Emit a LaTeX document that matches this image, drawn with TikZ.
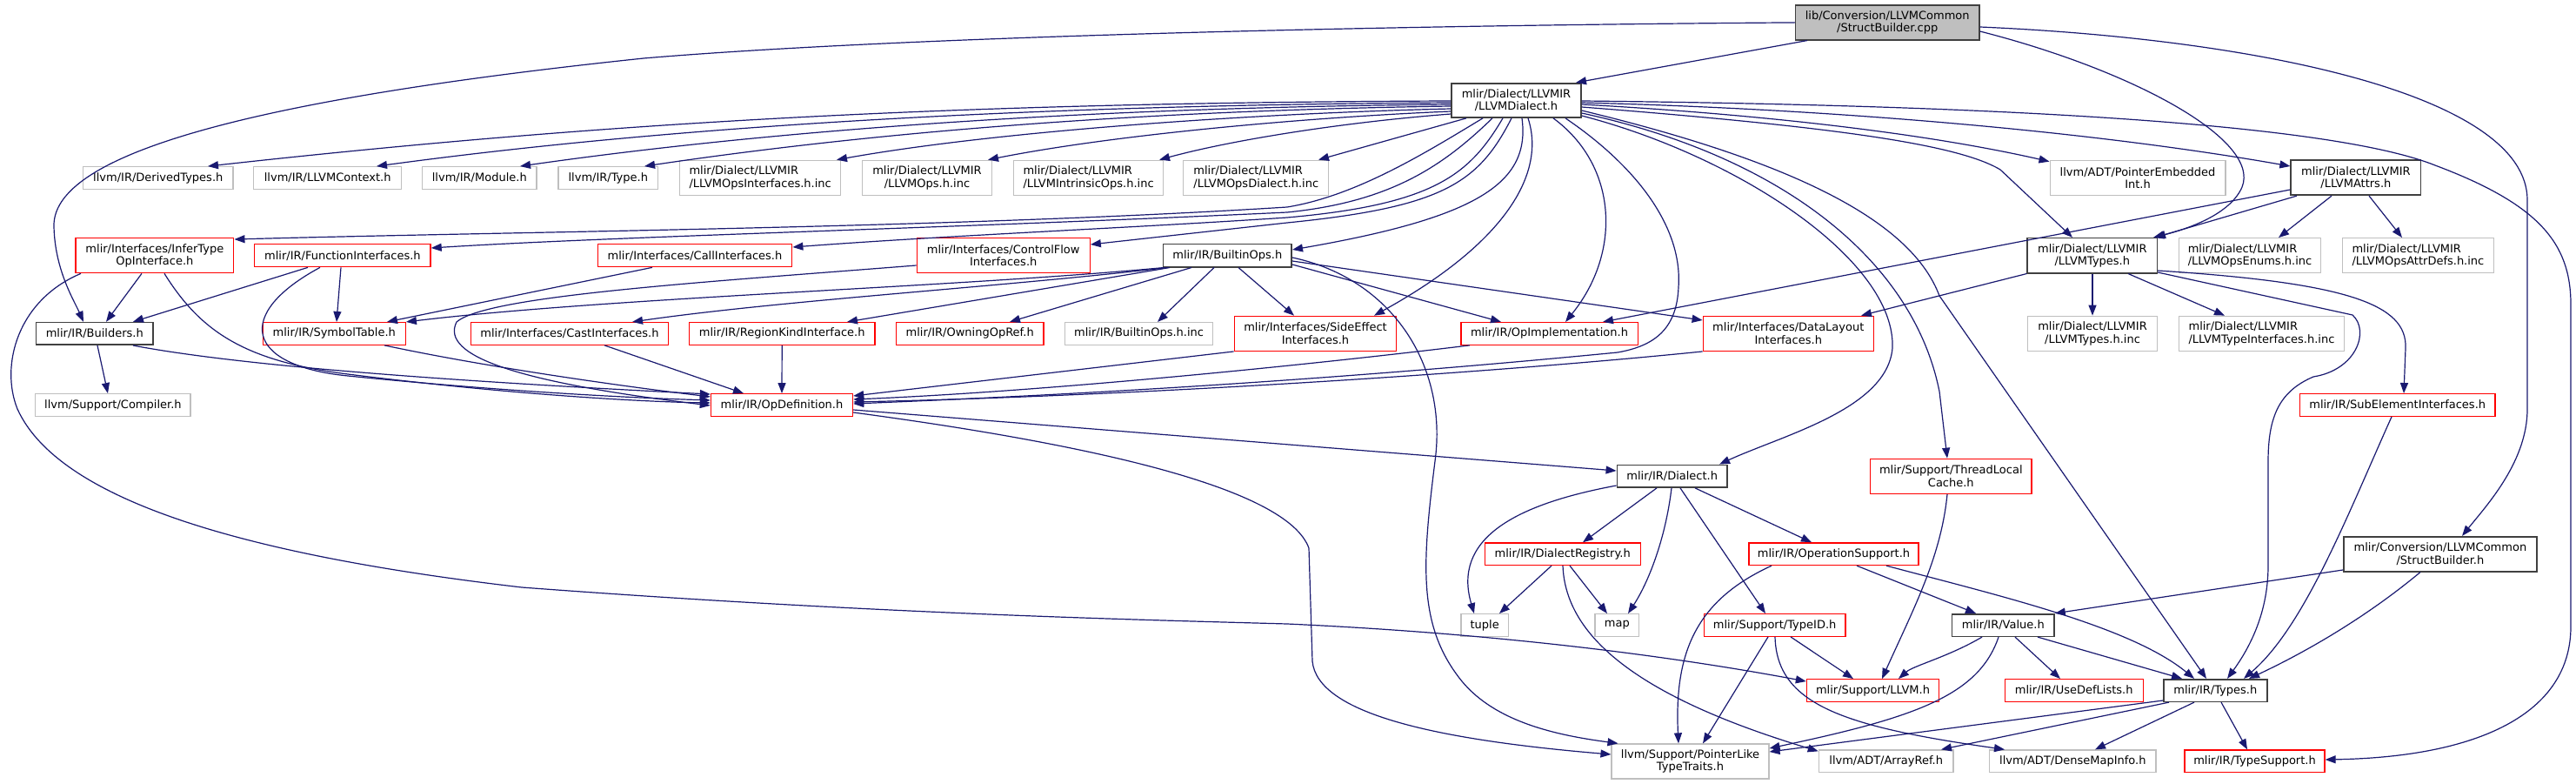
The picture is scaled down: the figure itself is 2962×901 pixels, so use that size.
\documentclass[tikz,border=0pt]{standalone}
\usepackage{fontspec}
\setmainfont{DejaVu Sans}
\usetikzlibrary{arrows.meta}
\definecolor{edgec}{HTML}{191970}
\definecolor{dg}{HTML}{404040}
\definecolor{lg}{HTML}{BFBFBF}
\definecolor{rd}{HTML}{FF0000}
\newcommand\mkn[7]{\node[#1,minimum width=#5pt,minimum height=#6pt] (#2) at (#3,#4) {#7};}
\begin{document}
\begin{tikzpicture}[x=1pt,y=-1pt,
  nbase/.style={rectangle,inner sep=0pt,align=center,font=\fontsize{13}{14.3}\selectfont},
  nblack/.style={nbase,draw=dg,line width=1.6pt,fill=white},
  nred/.style={nbase,draw=rd,line width=1.3pt,fill=white},
  ngrey/.style={nbase,draw=lg,line width=1.3pt,fill=white},
  nroot/.style={nbase,draw=dg,line width=1.6pt,fill=lg},
  edg/.style={draw=edgec,line width=1.2pt,-{Triangle[length=12pt,width=9pt]}},
]
\fill[white] (0,0) rectangle (2962,901);
\useasboundingbox (0,0) rectangle (2962,901);

\mkn{nroot}{root}{2170.2}{25.9}{211.3}{39.7}{lib/Conversion/LLVMCommon\\/StructBuilder.cpp}
\mkn{nblack}{dialect}{1743.5}{115.4}{149}{39.3}{mlir/Dialect/LLVMIR\\/LLVMDialect.h}
\mkn{ngrey}{derived}{181.8}{204.5}{172.2}{25.6}{llvm/IR/DerivedTypes.h}
\mkn{ngrey}{llctx}{376.7}{204.5}{169.8}{25.6}{llvm/IR/LLVMContext.h}
\mkn{ngrey}{module}{551.3}{204.5}{131.5}{25.6}{llvm/IR/Module.h}
\mkn{ngrey}{type}{699.3}{204.5}{114.8}{25.6}{llvm/IR/Type.h}
\mkn{ngrey,align=left}{opsif}{874.2}{204.3}{185.1}{40}{mlir/Dialect/LLVMIR\\/LLVMOpsInterfaces.h.inc}
\mkn{ngrey}{opsinc}{1066}{204.3}{148.7}{40}{mlir/Dialect/LLVMIR\\/LLVMOps.h.inc}
\mkn{ngrey,align=left}{intr}{1251.6}{204.3}{171.7}{40}{mlir/Dialect/LLVMIR\\/LLVMIntrinsicOps.h.inc}
\mkn{ngrey,align=left}{opsdial}{1444.3}{204.3}{167}{40}{mlir/Dialect/LLVMIR\\/LLVMOpsDialect.h.inc}
\mkn{ngrey}{ptremb}{2458}{204.3}{201.7}{40}{llvm/ADT/PointerEmbedded\\Int.h}
\mkn{nblack}{attrs}{2708.9}{204.3}{149.5}{40}{mlir/Dialect/LLVMIR\\/LLVMAttrs.h}
\mkn{nred}{infer}{177.9}{293.7}{181.8}{40}{mlir/Interfaces/InferType\\OpInterface.h}
\mkn{nred}{funcif}{393.9}{293.7}{202.3}{26}{mlir/IR/FunctionInterfaces.h}
\mkn{nred}{callif}{799}{293.7}{223.5}{26}{mlir/Interfaces/CallInterfaces.h}
\mkn{nred}{cflow}{1153.7}{293.7}{199}{40}{mlir/Interfaces/ControlFlow\\Interfaces.h}
\mkn{nblack}{builtin}{1411.3}{293.7}{147.8}{26}{mlir/IR/BuiltinOps.h}
\mkn{nblack}{types}{2405.8}{293.7}{149.1}{40}{mlir/Dialect/LLVMIR\\/LLVMTypes.h}
\mkn{ngrey,align=left}{enums}{2587}{293.7}{163.2}{40}{mlir/Dialect/LLVMIR\\/LLVMOpsEnums.h.inc}
\mkn{ngrey,align=left}{attrdefs}{2780.4}{293.7}{174.1}{40}{mlir/Dialect/LLVMIR\\/LLVMOpsAttrDefs.h.inc}
\mkn{nblack}{builders}{108.8}{383.4}{134.4}{25.6}{mlir/IR/Builders.h}
\mkn{nred}{symtab}{384.3}{383.4}{164}{25.6}{mlir/IR/SymbolTable.h}
\mkn{nred}{castif}{655}{383.4}{227.3}{25.6}{mlir/Interfaces/CastInterfaces.h}
\mkn{nred}{regkind}{899.2}{383.4}{213.3}{25.6}{mlir/IR/RegionKindInterface.h}
\mkn{nred}{owning}{1115.2}{383.4}{169.8}{25.6}{mlir/IR/OwningOpRef.h}
\mkn{ngrey}{bopsinc}{1309.6}{383.4}{170.3}{25.6}{mlir/IR/BuiltinOps.h.inc}
\mkn{nred}{sideeff}{1512.5}{383.3}{186.6}{40}{mlir/Interfaces/SideEffect\\Interfaces.h}
\mkn{nred}{opimpl}{1781.5}{383.4}{203.3}{25.6}{mlir/IR/OpImplementation.h}
\mkn{nred}{dlayout}{2056.3}{383.3}{196.1}{40}{mlir/Interfaces/DataLayout\\Interfaces.h}
\mkn{ngrey}{typesinc}{2406}{383.3}{149.6}{40}{mlir/Dialect/LLVMIR\\/LLVMTypes.h.inc}
\mkn{ngrey,align=left}{typeifinc}{2600.5}{383.3}{190.2}{40}{mlir/Dialect/LLVMIR\\/LLVMTypeInterfaces.h.inc}
\mkn{ngrey}{compiler}{129.9}{465.5}{178.3}{25.6}{llvm/Support/Compiler.h}
\mkn{nred}{opdef}{899}{465.5}{163.1}{25.6}{mlir/IR/OpDefinition.h}
\mkn{nred}{subelem}{2756.7}{465.5}{224.3}{25.6}{mlir/IR/SubElementInterfaces.h}
\mkn{nblack}{dialecth}{1922.7}{547.2}{126.7}{25.7}{mlir/IR/Dialect.h}
\mkn{nred}{tlcache}{2243.3}{547.3}{185.4}{40}{mlir/Support/ThreadLocal\\Cache.h}
\mkn{nred}{dreg}{1796.7}{636.7}{178.9}{25.6}{mlir/IR/DialectRegistry.h}
\mkn{nred}{opsupp}{2108.5}{636.7}{195.1}{25.6}{mlir/IR/OperationSupport.h}
\mkn{nblack}{sbh}{2805.9}{636.7}{222.4}{40}{mlir/Conversion/LLVMCommon\\/StructBuilder.h}
\mkn{ngrey}{tuple}{1707.2}{718.5}{54.6}{25.6}{tuple}
\mkn{ngrey}{map}{1859.3}{718.5}{50.6}{25.6}{map}
\mkn{nred}{typeid}{2040.6}{718.5}{162.6}{25.6}{mlir/Support/TypeID.h}
\mkn{nblack}{value}{2303.3}{718.5}{117.4}{25.6}{mlir/IR/Value.h}
\mkn{nred}{llvmh}{2153.5}{793.5}{152.1}{25.6}{mlir/Support/LLVM.h}
\mkn{nred}{usedef}{2384.7}{793.5}{159}{25.6}{mlir/IR/UseDefLists.h}
\mkn{nblack}{irtypes}{2547.3}{793.5}{118.8}{25.6}{mlir/IR/Types.h}
\mkn{ngrey}{ptrlike}{1943.5}{875}{180.8}{40}{llvm/Support/PointerLike\\TypeTraits.h}
\mkn{ngrey}{arrayref}{2168.7}{874.8}{154.7}{25.6}{llvm/ADT/ArrayRef.h}
\mkn{ngrey}{densemap}{2383.3}{874.8}{191.2}{25.6}{llvm/ADT/DenseMapInfo.h}
\mkn{nred}{typesupp}{2592.5}{874.8}{160.9}{25.6}{mlir/IR/TypeSupport.h}

% root
\draw[edg] (2078,0 |- root.south) -- (1812,0 |- dialect.north);
\draw[edg] (root.west) .. controls (1500,30) and (1000,45) .. (740,67) .. controls (330,110) and (60,170) .. (62,260) .. controls (63,310) and (85,345) .. (96,0 |- builders.north);
\draw[edg] (root.east |- 0,36) .. controls (2450,80) and (2600,160) .. (2578,215) .. controls (2565,245) and (2520,262) .. (2476,0 |- types.north);
\draw[edg] (root.east |- 0,31) .. controls (2600,45) and (2906,110) .. (2906,230) -- (2906,470) .. controls (2906,530) and (2860,580) .. (2831,0 |- sbh.north);

% LLVMDialect.h left fan
\draw[edg] (dialect.west |- 0,116) .. controls (1100,118) and (700,140) .. (239,0 |- derived.north);
\draw[edg] (dialect.west |- 0,118) .. controls (1150,121) and (750,148) .. (433,0 |- llctx.north);
\draw[edg] (dialect.west |- 0,120) .. controls (1200,124) and (850,155) .. (598,0 |- module.north);
\draw[edg] (dialect.west |- 0,122) .. controls (1250,128) and (950,160) .. (741,0 |- type.north);
\draw[edg] (dialect.west |- 0,125) .. controls (1450,130) and (1150,150) .. (962,0 |- opsif.north);
\draw[edg] (dialect.west |- 0,128) .. controls (1500,135) and (1280,155) .. (1136,0 |- opsinc.north);
\draw[edg] (dialect.west |- 0,131) .. controls (1550,140) and (1420,160) .. (1333,0 |- intr.north);
\draw[edg] (1686,0 |- dialect.south) -- (1516,0 |- opsdial.north);
\draw[edg] (1705,0 |- dialect.south) .. controls (1640,175) and (1560,225) .. (1480,238) .. controls (1100,262) and (600,266) .. ([yshift=-2pt]infer.north east);
\draw[edg] (1716,0 |- dialect.south) .. controls (1660,190) and (1600,232) .. (1480,244) .. controls (1100,262) and (700,272) .. (funcif.east |- 0,285);
\draw[edg] (1728,0 |- dialect.south) .. controls (1690,200) and (1650,235) .. (1480,250) .. controls (1300,262) and (1100,270) .. (callif.east |- 0,284);
\draw[edg] (1738,0 |- dialect.south) .. controls (1700,210) and (1660,238) .. (1480,256) -- (cflow.east |- 0,281);
\draw[edg] (1750,0 |- dialect.south) .. controls (1760,210) and (1700,250) .. (builtin.east |- 0,287);
\draw[edg] (1757,0 |- dialect.south) .. controls (1778,200) and (1730,280) .. (1580,0 |- sideeff.north);
\draw[edg] (1786,0 |- dialect.south) .. controls (1860,190) and (1865,290) .. (1800,0 |- opimpl.north);
\draw[edg] (1800,0 |- dialect.south) .. controls (1880,190) and (1935,260) .. (1930,330) .. controls (1928,380) and (1900,398) .. (1860,405) .. controls (1500,440) and (1200,455) .. (opdef.east |- 0,464);
% LLVMDialect.h right fan
\draw[edg] (dialect.east |- 0,133) .. controls (2000,180) and (2180,300) .. (2176,400) .. controls (2170,470) and (2050,500) .. (1977,0 |- dialecth.north);
\draw[edg] (dialect.east |- 0,130) .. controls (2050,180) and (2200,300) .. (2230,450) -- (2239,0 |- tlcache.north);
\draw[edg] (dialect.east |- 0,127) .. controls (2080,190) and (2200,260) .. (2230,340) -- (2537,0 |- irtypes.north);
\draw[edg] (dialect.east |- 0,123) .. controls (2100,145) and (2250,165) .. (2300,195) -- (2383,0 |- types.north);
\draw[edg] (dialect.east |- 0,120) .. controls (2000,130) and (2200,150) .. ([yshift=-2pt]ptremb.north west);
\draw[edg] (dialect.east |- 0,118) .. controls (2100,125) and (2400,150) .. (attrs.west |- 0,191);
\draw[edg] (dialect.east |- 0,116) .. controls (2400,122) and (2700,150) .. (2800,190) .. controls (2920,235) and (2956,280) .. (2956,350) -- (2956,720) .. controls (2956,820) and (2850,870) .. (typesupp.east |- 0,873);

% BuiltinOps.h
\draw[edg] ([xshift=2pt]builtin.south west) .. controls (1100,330) and (700,342) .. (symtab.north east);
\draw[edg] ([xshift=6pt]builtin.south west) .. controls (1150,330) and (900,345) .. (727,0 |- castif.north);
\draw[edg] (1345,0 |- builtin.south) -- (974,0 |- regkind.north);
\draw[edg] (1370,0 |- builtin.south) -- (1161,0 |- owning.north);
\draw[edg] (1396,0 |- builtin.south) -- (1331,0 |- bopsinc.north);
\draw[edg] (1424,0 |- builtin.south) -- (1488,0 |- sideeff.north);
\draw[edg] (builtin.east |- 0,304) -- (1726,0 |- opimpl.north);
\draw[edg] (builtin.east |- 0,300) -- (dlayout.west |- 0,368);
\draw[edg] (builtin.east |- 0,296) .. controls (1600,320) and (1665,420) .. (1650,530) .. controls (1635,650) and (1630,720) .. (1681,783) .. controls (1720,830) and (1790,845) .. ([xshift=8pt]ptrlike.north west);

% into OpDefinition.h
\draw[edg] (sideeff.south west) -- (opdef.east |- 0,455);
\draw[edg] (1690,0 |- opimpl.south) .. controls (1500,420) and (1200,450) .. (opdef.east |- 0,459);
\draw[edg] (dlayout.south west) .. controls (1700,430) and (1300,455) .. (opdef.east |- 0,462);
\draw[edg] (695,0 |- castif.south) -- (855,0 |- opdef.north);
\draw[edg] (regkind.south) -- (opdef.north);
\draw[edg] (153,0 |- builders.south) .. controls (300,425) and (600,442) .. ([yshift=-1pt]opdef.north west);
\draw[edg] (442,0 |- symtab.south) .. controls (550,420) and (700,442) .. (opdef.west |- 0,456);
\draw[edg] (368,0 |- funcif.south) .. controls (270,360) and (280,420) .. (400,432) .. controls (600,452) and (750,458) .. (opdef.west |- 0,460);
\draw[edg] (189,0 |- infer.south) .. controls (230,380) and (280,415) .. (400,430) .. controls (600,455) and (750,462) .. (opdef.west |- 0,463);
\draw[edg] (cflow.west |- 0,305) .. controls (800,325) and (560,340) .. (525,370) .. controls (505,410) and (600,440) .. (opdef.west |- 0,466);

% interfaces
\draw[edg] (354,0 |- funcif.south) -- (153,0 |- builders.north);
\draw[edg] (392,0 |- funcif.south) -- (387,0 |- symtab.north);
\draw[edg] (163,0 |- infer.south) -- (122,0 |- builders.north);
\draw[edg] (93,0 |- infer.south) .. controls (20,345) and (0,420) .. (20,470) .. controls (70,580) and (300,640) .. (600,675) .. controls (1000,705) and (1300,712) .. (1480,717) .. controls (1700,727) and (1900,750) .. ([yshift=-3pt]llvmh.north west);
\draw[edg] (750,0 |- callif.south) -- (445,0 |- symtab.north);
\draw[edg] (112,0 |- builders.south) -- (124,0 |- compiler.north);

% LLVMAttrs.h
\draw[edg] (attrs.west |- 0,218) -- (1843,0 |- opimpl.north);
\draw[edg] (2641,0 |- attrs.south) -- (2478,0 |- types.north);
\draw[edg] (2681,0 |- attrs.south) -- (2620,0 |- enums.north);
\draw[edg] (2724,0 |- attrs.south) -- (2762,0 |- attrdefs.north);

% LLVMTypes.h
\draw[edg] (types.south west) -- (2140,0 |- dlayout.north);
\draw[edg] (2406,0 |- types.south) -- (2406,0 |- typesinc.north);
\draw[edg] (2447,0 |- types.south) -- (2558,0 |- typeifinc.north);
\draw[edg] (types.east |- 0,311) .. controls (2700,325) and (2768,350) .. (2766,400) -- (2764,0 |- subelem.north);
\draw[edg] (types.east |- 0,313) -- (2705,362) .. controls (2725,380) and (2710,425) .. (2660,433) .. controls (2620,450) and (2608,480) .. (2608,530) -- (2608,650) .. controls (2608,700) and (2590,740) .. (2561,0 |- irtypes.north);
\draw[edg] (2750,0 |- subelem.south) .. controls (2700,590) and (2650,720) .. (2580,0 |- irtypes.north);

% StructBuilder.h
\draw[edg] (sbh.west |- 0,655) -- (value.north east);
\draw[edg] (2783,0 |- sbh.south) .. controls (2720,710) and (2650,750) .. (2586,0 |- irtypes.north);

% OpDefinition.h
\draw[edg] (opdef.east |- 0,471) -- (dialecth.west |- 0,541);
\draw[edg] (opdef.east |- 0,474) .. controls (1250,510) and (1480,560) .. (1505,630) -- (1509,760) .. controls (1515,820) and (1650,850) .. (ptrlike.west |- 0,867);

% Dialect.h
\draw[edg] (dialecth.west |- 0,558) .. controls (1740,580) and (1670,620) .. (1695,0 |- tuple.north);
\draw[edg] (1905,0 |- dialecth.south) -- (1820,0 |- dreg.north);
\draw[edg] (1922,0 |- dialecth.south) .. controls (1915,620) and (1895,670) .. (1872,0 |- map.north);
\draw[edg] (1932,0 |- dialecth.south) -- (2030,0 |- typeid.north);
\draw[edg] (1949,0 |- dialecth.south) -- (2083,0 |- opsupp.north);

% DialectRegistry.h
\draw[edg] (1784,0 |- dreg.south) -- (1724,0 |- tuple.north);
\draw[edg] (1805,0 |- dreg.south) -- (1848,0 |- map.north);
\draw[edg] (1797,0 |- dreg.south) .. controls (1800,730) and (1880,800) .. ([yshift=-2pt]arrayref.north west);

% OperationSupport.h
\draw[edg] (2037,0 |- opsupp.south) .. controls (1950,690) and (1925,750) .. (1930,0 |- ptrlike.north);
\draw[edg] (2135,0 |- opsupp.south) -- (2272,0 |- value.north);
\draw[edg] (2169,0 |- opsupp.south) .. controls (2300,685) and (2450,720) .. (2523,0 |- irtypes.north);

% TypeID.h
\draw[edg] (2059,0 |- typeid.south) -- (2131,0 |- llvmh.north);
\draw[edg] (2033,0 |- typeid.south) -- (1958,0 |- ptrlike.north);
\draw[edg] (2041,0 |- typeid.south) .. controls (2043,810) and (2120,835) .. (2305,0 |- densemap.north);

% ThreadLocalCache.h
\draw[edg] (2239,0 |- tlcache.south) .. controls (2232,640) and (2200,700) .. (2164,0 |- llvmh.north);

% Value.h
\draw[edg] (2279,0 |- value.south) .. controls (2240,755) and (2200,765) .. (2183,0 |- llvmh.north);
\draw[edg] (2298,0 |- value.south) .. controls (2275,800) and (2200,825) .. (ptrlike.east |- 0,860);
\draw[edg] (2317,0 |- value.south) -- (2369,0 |- usedef.north);
\draw[edg] (2343,0 |- value.south) -- (2509,0 |- irtypes.north);

% Types.h
\draw[edg] (irtypes.west |- 0,805) -- (ptrlike.east |- 0,864);
\draw[edg] (2494,0 |- irtypes.south) -- (2232,0 |- arrayref.north);
\draw[edg] (2523,0 |- irtypes.south) -- (2409,0 |- densemap.north);
\draw[edg] (2554,0 |- irtypes.south) -- (2584,0 |- typesupp.north);
\end{tikzpicture}
\end{document}
